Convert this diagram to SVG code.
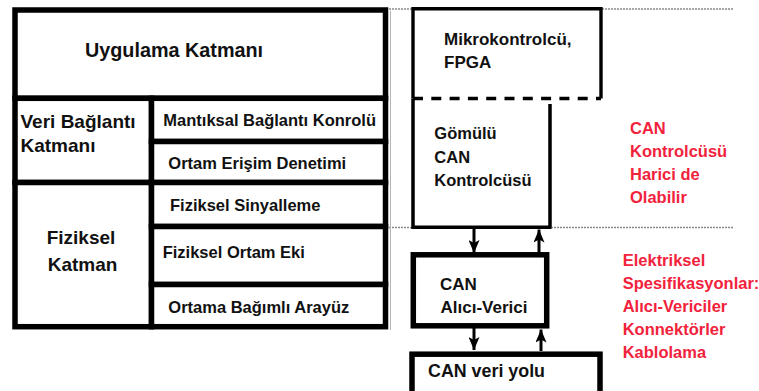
<svg xmlns="http://www.w3.org/2000/svg" width="759" height="391" viewBox="0 0 759 391">
<defs>
<style>
.cell{fill:#fff;stroke:#000;stroke-width:5.5}
.t{font-family:"Liberation Sans",Arial,sans-serif;font-weight:bold;fill:#111}
.big{font-size:19px}
.sm{font-size:16.5px}
.red{font-family:"Liberation Sans",Arial,sans-serif;font-weight:bold;font-size:16.5px;fill:#f2223c}
.dot{stroke:#8a8a8a;stroke-width:1.5;stroke-dasharray:2 1;fill:none}
.ln{stroke:#000;fill:none}
.arr{stroke:#000;stroke-width:3;fill:none;marker-end:url(#ah)}
</style>
<marker id="ah" markerUnits="userSpaceOnUse" markerWidth="13" markerHeight="11" refX="13" refY="5.5" orient="auto">
<path d="M0,0 L13,5.5 L0,11 L3,5.5 z" fill="#000"/>
</marker>
</defs>
<rect width="759" height="391" fill="#fff"/>

<g id="guides">
<line class="dot" x1="386" y1="9" x2="733" y2="9"/>
<line class="dot" x1="386" y1="227.5" x2="733" y2="227.5"/>
<line x1="390.5" y1="11" x2="390.5" y2="330" stroke="#b5b5b5" stroke-width="1"/>
</g>

<g id="uygulama">
<rect class="cell" x="15" y="10" width="370.5" height="88.3"/>
<text class="t" font-size="19.8" x="85" y="57.3">Uygulama Katmanı</text>
</g>
<g id="veri-baglanti">
<rect class="cell" x="15" y="98.3" width="136.5" height="84.2"/>
<text class="t big" x="20.5" y="128.3">Veri Bağlantı</text>
<text class="t big" x="20.5" y="151.7">Katmanı</text>
</g>
<g id="mantiksal">
<rect class="cell" x="151.5" y="98.3" width="234" height="43.2"/>
<text class="t sm" x="163.3" y="126">Mantıksal Bağlantı Konrolü</text>
</g>
<g id="ortam-erisim">
<rect class="cell" x="151.5" y="141.5" width="234" height="41"/>
<text class="t sm" x="168.3" y="169.3">Ortam Erişim Denetimi</text>
</g>
<g id="fiziksel-katman">
<rect class="cell" x="15" y="182.5" width="136.5" height="144.2"/>
<text class="t big" x="46.7" y="244">Fiziksel</text>
<text class="t big" x="47.7" y="270.7">Katman</text>
</g>
<g id="fiziksel-sinyalleme">
<rect class="cell" x="151.5" y="182.5" width="234" height="44"/>
<text class="t sm" x="170" y="210.7">Fiziksel Sinyalleme</text>
</g>
<g id="fiziksel-ortam-eki">
<rect class="cell" x="151.5" y="226.5" width="234" height="58"/>
<text class="t sm" x="162.7" y="258.3">Fiziksel Ortam Eki</text>
</g>
<g id="ortama-bagimli">
<rect class="cell" x="151.5" y="284.5" width="234" height="42.2"/>
<text class="t sm" x="168.3" y="313.3">Ortama Bağımlı Arayüz</text>
</g>

<g id="mikrokontrolcu">
<path class="ln" stroke-width="3.4" d="M413,98.5 V8.7 H601 V98.5"/>
<line class="ln" x1="413" y1="98.5" x2="601" y2="98.5" stroke-width="3.6" stroke-dasharray="10 8.3"/>
<text class="t" font-size="17" x="444" y="45">Mikrokontrolcü,</text>
<text class="t" font-size="17" x="444" y="68.3">FPGA</text>
</g>
<g id="gomulu-can">
<path class="ln" stroke-width="3.5" d="M413,98.5 V227.3 H551.5 M550,227.3 V104"/>
<text class="t sm" x="434.3" y="139.3">Gömülü</text>
<text class="t sm" x="434.3" y="162.7">CAN</text>
<text class="t sm" x="434.3" y="185.7">Kontrolcüsü</text>
</g>
<g id="can-alici-verici">
<rect class="cell" x="413.3" y="254.8" width="133.4" height="71"/>
<text class="t" font-size="17" x="440" y="290">CAN</text>
<text class="t" font-size="17" x="440.5" y="313.3">Alıcı-Verici</text>
</g>
<g id="can-veri-yolu">
<rect class="cell" stroke-width="6.5" x="412" y="354.2" width="188" height="40"/>
<text class="t" font-size="17.5" x="428" y="376.7" textLength="117" lengthAdjust="spacingAndGlyphs">CAN veri yolu</text>
</g>

<g id="connectors">
<line class="arr" x1="474" y1="229" x2="474" y2="253"/>
<line class="arr" x1="539" y1="253" x2="539" y2="229.5"/>
<line class="arr" x1="474" y1="328" x2="474" y2="350"/>
<line class="arr" x1="541" y1="351" x2="541" y2="329.5"/>
</g>

<g id="notes">
<text class="red" x="630" y="134.3">CAN</text>
<text class="red" x="630" y="156.7">Kontrolcüsü</text>
<text class="red" x="630" y="180">Harici de</text>
<text class="red" x="630" y="202.7">Olabilir</text>
<text class="red" x="622.7" y="265.7">Elektriksel</text>
<text class="red" x="622.7" y="288.5">Spesifikasyonlar:</text>
<text class="red" x="622.7" y="311.7">Alıcı-Vericiler</text>
<text class="red" x="622.7" y="335">Konnektörler</text>
<text class="red" x="622.7" y="357.5">Kablolama</text>
</g>
</svg>
